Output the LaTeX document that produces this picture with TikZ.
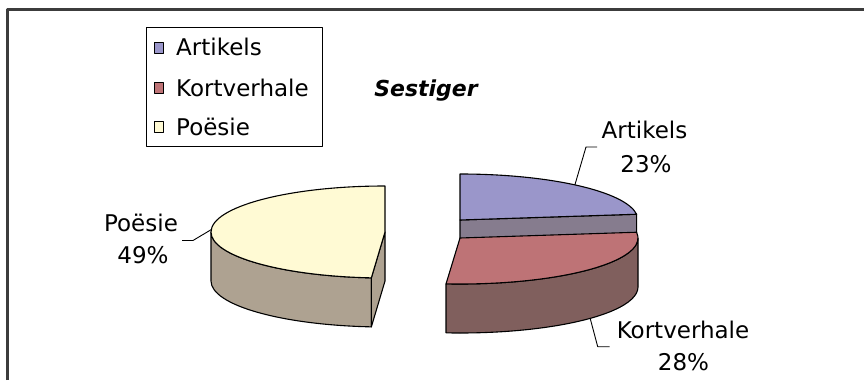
\documentclass[tikz,border=0pt]{standalone}
\usepackage{fontspec}
\setmainfont{DejaVu Sans}
\usetikzlibrary{calc}
\definecolor{arttop}{RGB}{154,150,202}
\definecolor{artwall}{RGB}{134,124,142}
\definecolor{korttop}{RGB}{190,115,118}
\definecolor{kortside}{RGB}{128,95,93}
\definecolor{poetop}{RGB}{255,250,212}
\definecolor{poeside}{RGB}{174,162,145}
\definecolor{framegray}{RGB}{60,60,60}
\begin{document}
\begin{tikzpicture}[x=1pt,y=1pt,line join=round,
  edge/.style={draw=black,line width=1.1pt},
  lbl/.style={font=\fontsize{23}{27}\selectfont,inner sep=0pt,anchor=base},
  leader/.style={draw=black,line width=0.9pt},
  key/.style={draw=black,line width=0.8pt,minimum width=9pt,minimum height=11pt,inner sep=0pt},
  frame/.style={draw=framegray,line width=3pt}]
\useasboundingbox (0,0) rectangle (864,-380);
\fill[white] (0,0) rectangle (864,-380);
\draw[frame] (7.7,-380) -- (7.7,-9.3) -- (864,-9.3);

% legend
\node[draw=black,line width=0.9pt,minimum width=176pt,minimum height=119pt,inner sep=0pt,anchor=north west] (legend) at (146,-27) {};
\node[key,fill=arttop] (k1) at (159,-48.3) {};
\node[key,fill=korttop] (k2) at (159,-88) {};
\node[key,fill=poetop] (k3) at (159,-127) {};
\node[lbl,anchor=base west] (t1) at (176,-55) {Artikels};
\node[lbl,anchor=base west] (t2) at (176,-96) {Kortverhale};
\node[lbl,anchor=base west] (t3) at (176,-135) {Poësie};

% title
\node[font=\fontsize{22}{26}\selectfont\bfseries\itshape,anchor=base,inner sep=0pt] (title) at (426,-96) {Sestiger};

% Poesie piece
\coordinate (P) at (385,-232);
\path[edge,fill=poeside] ($(P)+(180:174pt and 46pt)$) arc[start angle=180,end angle=265.5,x radius=174pt,y radius=46pt] -- ++(0,-49) arc[start angle=265.5,end angle=180,x radius=174pt,y radius=46pt] -- cycle;
\path[edge,fill=poeside] (P) -- ($(P)+(265.5:174pt and 46pt)$) -- ++(0,-49) -- ($(P)+(0,-49)$) -- cycle;
\path[edge,fill=poetop] (P) -- ($(P)+(90:174pt and 46pt)$) arc[start angle=90,end angle=265.5,x radius=174pt,y radius=46pt] -- cycle;

% Artikels piece
\coordinate (A) at (460,-220);
\path[edge,fill=artwall] (A) -- ($(A)+(7.2:178pt and 46pt)$) -- ++(0,-49) -- ($(A)+(0,-49)$) -- cycle;
\path[edge,fill=arttop] (A) -- ($(A)+(7.2:178pt and 46pt)$) arc[start angle=7.2,end angle=90,x radius=178pt,y radius=46pt] -- cycle;

% Kortverhale piece
\coordinate (K) at (460,-238);
\path[edge,fill=kortside] ($(K)+(-94.5:178pt and 46pt)$) arc[start angle=-94.5,end angle=0,x radius=178pt,y radius=46pt] -- ++(0,-49) arc[start angle=0,end angle=-94.5,x radius=178pt,y radius=46pt] -- cycle;
\path[edge,fill=korttop] (K) -- ($(K)+(-94.5:178pt and 46pt)$) arc[start angle=-94.5,end angle=7.2,x radius=178pt,y radius=46pt] -- cycle;

% leader anchors
\coordinate (artpt) at ($(A)+(49.8:178pt and 46pt)$);
\coordinate (poept) at ($(P)+(177:174pt and 46pt)$);
\coordinate (kortpt) at ($(K)+(-43:178pt and 46pt)+(0,-49)$);
\coordinate (artend) at (597,-147);
\coordinate (poeend) at (182,-240.5);
\coordinate (kortend) at (609.7,-346.7);

% labels
\node[lbl] (artlbl) at (644.5,-138) {Artikels};
\node[lbl] (artpct) at (646,-172) {23\%};
\node[lbl] (poelbl) at (141,-231.7) {Poësie};
\node[lbl] (poepct) at (143,-263) {49\%};
\node[lbl] (kortlbl) at (683,-338) {Kortverhale};
\node[lbl] (kortpct) at (683.5,-370) {28\%};

\draw[leader] (artpt) -- (586,-147) -- (artend);
\draw[leader] (poept) -- (193,-240.5) -- (poeend);
\draw[leader] (kortpt) -- (597.7,-346.7) -- (kortend);
\end{tikzpicture}
\end{document}
